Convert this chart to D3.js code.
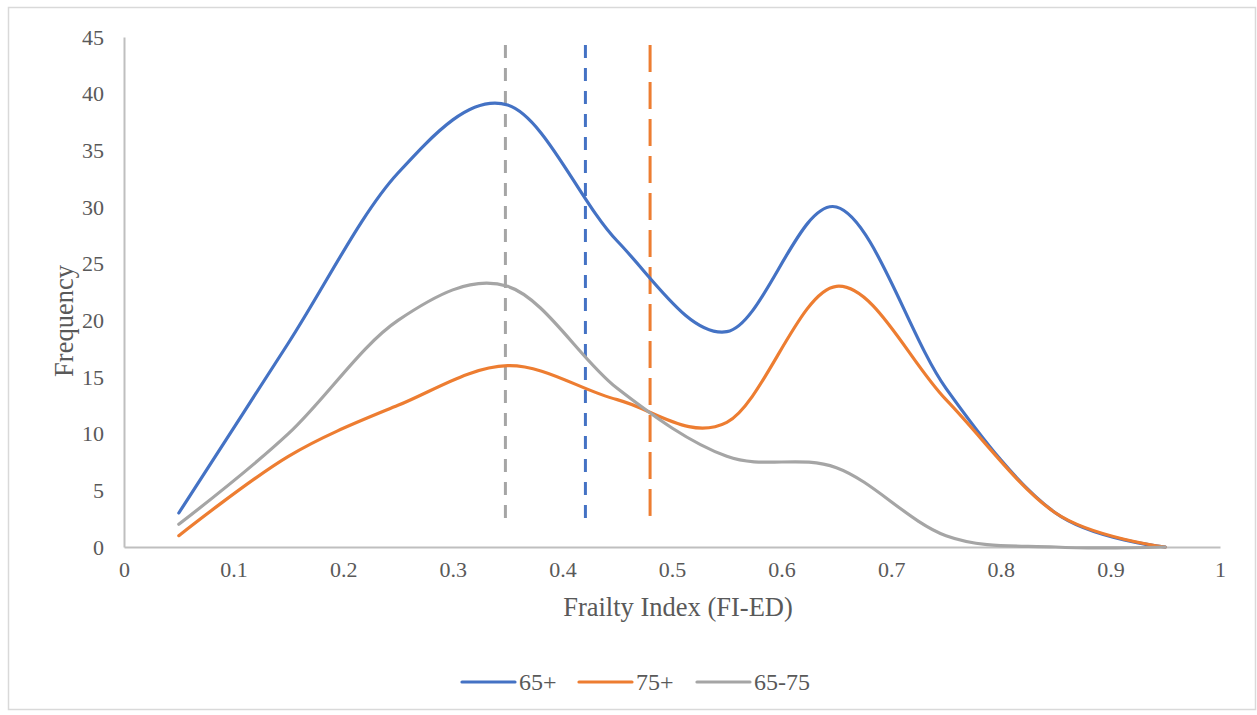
<!DOCTYPE html>
<html>
<head>
<meta charset="utf-8">
<script src="https://cdn.jsdelivr.net/npm/d3@7"></script>
<style>
  html, body { margin: 0; padding: 0; background: #fff; }
  svg { display: block; }
  text { font-family: "Liberation Serif", "Times New Roman", serif; fill: #595959; }
</style>
</head>
<body>
<svg id="chart" width="1257" height="715"></svg>
<script>
// ---- data ----
const frailtyBins = [0.05, 0.15, 0.25, 0.35, 0.45, 0.55, 0.65, 0.75, 0.85, 0.95];
const freq65plus  = [3, 18, 33, 39, 27, 19, 30, 14, 3, 0];
const freq75plus  = [1, 8, 12.5, 16, 13, 11, 23, 13, 3, 0];
const freq65to75  = [2, 10, 20, 23, 14, 8, 7, 1, 0, 0];
const seriesNames = ["65+", "75+", "65-75"];
const seriesColors = ["#4472C4", "#ED7D31", "#A5A5A5"];
// vertical reference lines: x position per group
const refLineNames = ["65-75", "65+", "75+"];
const refLineX = [0.348, 0.421, 0.48];
const refLineSpan = [44.3, 2.2];
const xTicks = [0, 0.1, 0.2, 0.3, 0.4, 0.5, 0.6, 0.7, 0.8, 0.9, 1];
const yTicks = [0, 5, 10, 15, 20, 25, 30, 35, 40, 45];

const seriesValues = [freq65plus, freq75plus, freq65to75];

const svg = d3.select("#chart");

// frame
svg.append("rect")
  .attr("x", 8.5).attr("y", 7.5)
  .attr("width", 1247).attr("height", 702)
  .attr("fill", "#fff").attr("stroke", "#D9D9D9").attr("stroke-width", 1.5);

const x = d3.scaleLinear().domain([0, 1]).range([124, 1220]);
const y = d3.scaleLinear().domain([0, 45]).range([547, 37]);

// axes
const xAxis = d3.axisBottom(x).tickValues(xTicks).tickSize(0).tickPadding(14)
  .tickFormat(d => d3.format("")(+d.toFixed(1)));
const gx = svg.append("g").attr("transform", `translate(0,${y(0)})`).call(xAxis);
gx.select(".domain").attr("stroke", "#BFBFBF").attr("stroke-width", 2);
gx.selectAll("text").attr("font-size", 22).attr("fill", "#595959")
  .style("font-family", '"Liberation Serif", serif');

const yAxis = d3.axisLeft(y).tickValues(yTicks).tickSize(0).tickPadding(20);
const gy = svg.append("g").attr("transform", `translate(${x(0)},0)`).call(yAxis);
gy.select(".domain").attr("stroke", "#BFBFBF").attr("stroke-width", 2);
gy.selectAll("text").attr("font-size", 22).attr("fill", "#595959")
  .style("font-family", '"Liberation Serif", serif');

// axis titles
svg.append("text")
  .attr("x", 678).attr("y", 607).attr("dy", "0.35em")
  .attr("text-anchor", "middle").attr("font-size", 26.5)
  .text("Frailty Index (FI-ED)");
svg.append("text")
  .attr("transform", "translate(64,321) rotate(-90)")
  .attr("dy", "0.35em")
  .attr("text-anchor", "middle").attr("font-size", 26.5)
  .text("Frequency");

// vertical reference lines
const refDash = { "65-75": "13,10", "65+": "13,10", "75+": "27,10" };
refLineNames.forEach((name, i) => {
  const ci = seriesNames.indexOf(name);
  svg.append("line")
    .attr("x1", x(refLineX[i])).attr("x2", x(refLineX[i]))
    .attr("y1", y(refLineSpan[0])).attr("y2", y(refLineSpan[1]))
    .attr("stroke", seriesColors[ci]).attr("stroke-width", 3)
    .attr("stroke-dasharray", refDash[name]);
});

// series lines (smoothed like Excel)
const line = d3.line()
  .x((d, i) => x(frailtyBins[i]))
  .y(d => y(d))
  .curve(d3.curveCardinal.tension(0));

seriesValues.forEach((vals, i) => {
  svg.append("path")
    .datum(vals)
    .attr("d", line)
    .attr("fill", "none")
    .attr("stroke", seriesColors[i])
    .attr("stroke-width", 3.2)
    .attr("stroke-linecap", "round")
    .attr("stroke-linejoin", "round");
});

// legend
const legendItems = [
  { x: 462, name: seriesNames[0], color: seriesColors[0] },
  { x: 579, name: seriesNames[1], color: seriesColors[1] },
  { x: 697, name: seriesNames[2], color: seriesColors[2] }
];
const lg = svg.append("g");
legendItems.forEach(it => {
  lg.append("line")
    .attr("x1", it.x).attr("x2", it.x + 53)
    .attr("y1", 682).attr("y2", 682)
    .attr("stroke", it.color).attr("stroke-width", 3.2).attr("stroke-linecap", "round");
  lg.append("text")
    .attr("x", it.x + 57).attr("y", 682).attr("dy", "0.35em")
    .attr("font-size", 24)
    .text(it.name);
});
</script>
</body>
</html>
